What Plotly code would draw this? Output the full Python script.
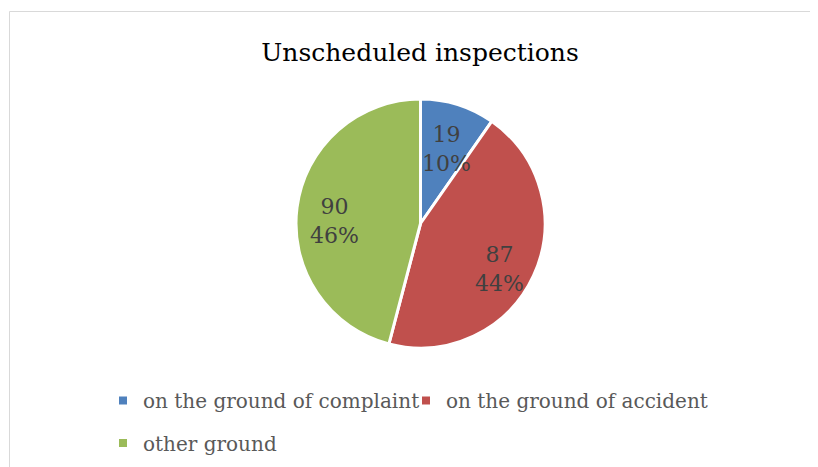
import math
import plotly.graph_objects as go

W, H = 818, 467
categories = ["on the ground of complaint", "on the ground of accident", "other ground"]
values = [19, 87, 90]
colors = ["#4F81BD", "#C0504D", "#9BBB59"]
title = "Unscheduled inspections"

FONT = "DejaVu Serif"
OFF = 8  # page body margin offset compensation

cx, cy, r = 420.5 - OFF, 223.5 - OFF, 124.5
total = sum(values)

fig = go.Figure()
fig.add_trace(go.Pie(
    labels=categories,
    values=values,
    sort=False,
    direction="clockwise",
    rotation=0,
    marker=dict(colors=colors, line=dict(color="white", width=3)),
    textinfo="none",
    domain=dict(x=[(cx - r) / W, (cx + r) / W], y=[(H - cy - r) / H, (H - cy + r) / H]),
    hoverinfo="skip",
    showlegend=False,
))

# data labels placed along each slice's bisector (computed from the values)
annotations = []
cum = 0
k = 0.70
dy = 9
for v in values:
    theta = 2 * math.pi * (cum + v / 2) / total
    cum += v
    lx = cx + k * r * math.sin(theta)
    ly = cy - k * r * math.cos(theta) + dy
    annotations.append(dict(
        x=lx / W, y=(H - ly) / H, xref="paper", yref="paper",
        text=f"{v}<br>{round(100 * v / total)}%", showarrow=False,
        xanchor="center", yanchor="middle", align="center",
        font=dict(family=FONT, size=22, color="#404040"),
    ))

# legend entries (one legend box per entry, to reproduce the two-row layout)
legend_names = ["legend", "legend2", "legend3"]
legend_pos = [(144 - OFF - 41, 400.5 - OFF), (447 - OFF - 41, 400.5 - OFF), (144 - OFF - 41, 443 - OFF)]
for name, col, lg in zip(categories, colors, legend_names):
    fig.add_trace(go.Scatter(
        x=[None], y=[None], mode="markers", name=name, legend=lg,
        marker=dict(symbol="square", size=8, color=col),
        hoverinfo="skip",
    ))

legend_common = dict(font=dict(family=FONT, size=20, color="#595959"), bgcolor="rgba(0,0,0,0)",
                     xanchor="left", yanchor="middle", orientation="h")
layout_legends = {}
for lg, (lx, ly) in zip(legend_names, legend_pos):
    layout_legends[lg] = dict(x=lx / W, y=(H - ly) / H, **legend_common)

fig.update_layout(
    width=W, height=H,
    margin=dict(l=0, r=0, t=0, b=0, autoexpand=False),
    paper_bgcolor="white",
    plot_bgcolor="white",
    xaxis=dict(visible=False),
    yaxis=dict(visible=False),
    title=dict(text=title, x=(420 - OFF) / W, xanchor="center", y=(H - (52 - OFF)) / H, yanchor="middle",
               font=dict(family=FONT, size=25, color="#000000")),
    showlegend=True,
    annotations=annotations,
    shapes=[dict(type="rect", xref="paper", yref="paper", x0=(9.5 - OFF) / W, x1=1.2, y0=-0.2,
                 y1=(H - (11.5 - OFF)) / H, line=dict(color="#D9D9D9", width=1),
                 fillcolor="rgba(0,0,0,0)", layer="below")],
    **layout_legends,
)

fig.write_html("out.html")
